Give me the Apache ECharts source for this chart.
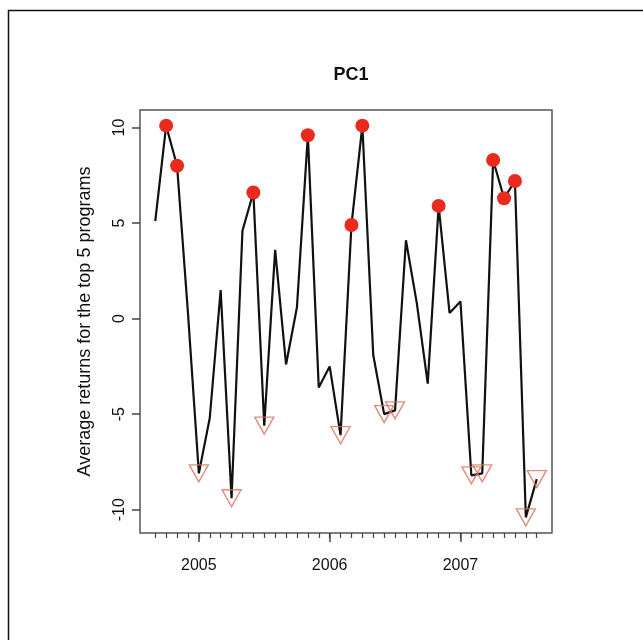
<!DOCTYPE html>
<html>
<head>
<meta charset="utf-8">
<script src="https://cdn.jsdelivr.net/npm/echarts@6/dist/echarts.min.js"></script>
<style>
html,body{margin:0;padding:0;background:#fff;}
#chart{width:643px;height:640px;}
</style>
</head>
<body>
<div id="chart"></div>
<script>
// Monthly observations
const months = ['2004-09','2004-10','2004-11','2004-12',
  '2005-01','2005-02','2005-03','2005-04','2005-05','2005-06','2005-07','2005-08','2005-09','2005-10','2005-11','2005-12',
  '2006-01','2006-02','2006-03','2006-04','2006-05','2006-06','2006-07','2006-08','2006-09','2006-10','2006-11','2006-12',
  '2007-01','2007-02','2007-03','2007-04','2007-05','2007-06','2007-07','2007-08'];
const returnsPC1 = [5.1, 10.1, 8.0, 0.3,
  -8.1, -5.2, 1.5, -9.4, 4.6, 6.6, -5.6, 3.6, -2.4, 0.6, 9.6, -3.6,
  -2.5, -6.1, 4.9, 10.1, -1.9, -5.0, -4.8, 4.1, 0.8, -3.4, 5.9, 0.3,
  0.9, -8.2, -8.1, 8.3, 6.3, 7.2, -10.4, -8.4];
// months marked as highs (filled red dots) and lows (open triangles)
const highMonths = ['2004-10','2004-11','2005-06','2005-11','2006-03','2006-04','2006-11','2007-04','2007-05','2007-06'];
const lowMonths = ['2005-01','2005-04','2005-07','2006-02','2006-06','2006-07','2007-02','2007-03','2007-07','2007-08'];
const yTicks = [-10, -5, 0, 5, 10];
const yearTicks = ['2005', '2006', '2007'];

// month index (months since Jan 2000)
function mIdx(s){ const p = s.split('-'); return (+p[0] - 2000) * 12 + (+p[1] - 1); }
const lineData = months.map((m, i) => [mIdx(m), returnsPC1[i]]);
const highData = highMonths.map(m => [mIdx(m), returnsPC1[months.indexOf(m)]]);
const lowData = lowMonths.map(m => [mIdx(m), returnsPC1[months.indexOf(m)]]);
const monthTicks = months.map(mIdx);
const majorTicks = yearTicks.map(y => mIdx(y + '-01'));

// R-style 4% padding
const xs = monthTicks;
const xr = xs[xs.length-1] - xs[0];
const xMin = xs[0] - 0.04 * xr, xMax = xs[xs.length-1] + 0.04 * xr;
const yLo = Math.min(...returnsPC1), yHi = Math.max(...returnsPC1);
const yr = yHi - yLo;
const yMin = yLo - 0.04 * yr, yMax = yHi + 0.04 * yr;

const FONT = '"Liberation Sans", Arial, Helvetica, sans-serif';
const chart = echarts.init(document.getElementById('chart'), null, {renderer: 'canvas'});
chart.setOption({
  animation: false,
  backgroundColor: '#fff',
  title: {
    text: 'PC1', left: 346, top: 61, textAlign: 'center',
    textStyle: {fontFamily: FONT, fontSize: 18, fontWeight: 'bold', color: '#111'}
  },
  graphic: [{
    type: 'rect', shape: {x: 8.5, y: 10.5, width: 700, height: 700},
    style: {fill: 'none', stroke: '#111', lineWidth: 1.5}, silent: true
  }],
  grid: {left: 140, top: 110, right: 91, bottom: 107, show: true, borderColor: '#555', borderWidth: 1.5, backgroundColor: 'transparent'},
  xAxis: [{
    type: 'value', min: xMin, max: xMax, position: 'bottom',
    axisLine: {show: false, onZero: false},
    axisTick: {show: true, customValues: monthTicks, length: 5, lineStyle: {color: '#444', width: 1.2}},
    axisLabel: {show: false},
    splitLine: {show: false}
  }, {
    type: 'value', min: xMin, max: xMax, position: 'bottom',
    axisLine: {show: false, onZero: false},
    axisTick: {show: true, customValues: majorTicks, length: 9, lineStyle: {color: '#444', width: 1.5}},
    axisLabel: {show: true, customValues: majorTicks, margin: 25,
      formatter: v => String(2000 + Math.floor(v / 12)),
      fontFamily: FONT, fontSize: 16, color: '#111'},
    splitLine: {show: false}
  }],
  yAxis: {
    type: 'value', min: yMin, max: yMax,
    name: 'Average returns for the top 5 programs', nameLocation: 'middle', nameGap: 46,
    nameTextStyle: {fontFamily: FONT, fontSize: 18, color: '#111'},
    axisLine: {show: false, onZero: false},
    axisTick: {show: true, customValues: yTicks, length: 8, lineStyle: {color: '#444', width: 1.5}},
    axisLabel: {show: true, customValues: yTicks, rotate: 90, margin: 12,
      fontFamily: FONT, fontSize: 16, color: '#111'},
    splitLine: {show: false}
  },
  series: [{
    type: 'line', xAxisIndex: 0, data: lineData, showSymbol: false, symbol: 'none',
    lineStyle: {color: '#111', width: 2.2}, z: 2
  }, {
    type: 'scatter', xAxisIndex: 0, data: lowData, symbol: 'triangle', symbolRotate: 180,
    symbolSize: [19, 17], itemStyle: {color: 'rgba(0,0,0,0)', borderColor: '#d4725e', borderWidth: 1.4}, z: 3
  }, {
    type: 'scatter', xAxisIndex: 0, data: highData, symbol: 'circle', symbolSize: 14,
    itemStyle: {color: '#ea2a1d', opacity: 1}, z: 4
  }]
});
</script>
</body>
</html>
